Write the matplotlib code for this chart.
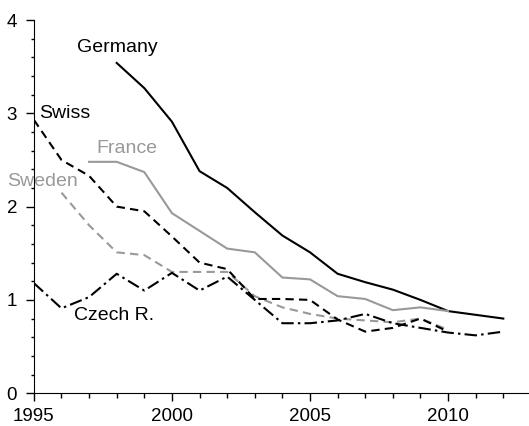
import matplotlib.pyplot as plt
from matplotlib.ticker import MultipleLocator

plt.rcParams['font.family'] = ['Liberation Sans', 'DejaVu Sans']

germany_yrs = [1998, 1999, 2000, 2001, 2002, 2003, 2004, 2005, 2006, 2007, 2008, 2009, 2010, 2011, 2012]
germany = [3.54, 3.27, 2.91, 2.38, 2.2, 1.94, 1.69, 1.51, 1.28, 1.19, 1.11, 1.0, 0.88, 0.84, 0.80]

france_yrs = [1997, 1998, 1999, 2000, 2001, 2002, 2003, 2004, 2005, 2006, 2007, 2008, 2009, 2010]
france = [2.48, 2.48, 2.37, 1.93, 1.74, 1.55, 1.51, 1.24, 1.22, 1.04, 1.01, 0.89, 0.92, 0.88]

swiss_yrs = [1995, 1996, 1997, 1998, 1999, 2000, 2001, 2002, 2003, 2004, 2005, 2006, 2007, 2008, 2009, 2010]
swiss = [2.93, 2.5, 2.33, 2.0, 1.95, 1.68, 1.40, 1.33, 1.01, 1.01, 1.0, 0.79, 0.66, 0.70, 0.80, 0.66]

sweden_yrs = [1996, 1997, 1998, 1999, 2000, 2001, 2002, 2003, 2004, 2005, 2006, 2007, 2008, 2009, 2010]
sweden = [2.15, 1.8, 1.51, 1.48, 1.30, 1.30, 1.30, 1.04, 0.92, 0.85, 0.80, 0.78, 0.76, 0.80, 0.68]

czech_yrs = [1995, 1996, 1997, 1998, 1999, 2000, 2001, 2002, 2003, 2004, 2005, 2006, 2007, 2008, 2009, 2010, 2011, 2012]
czech = [1.18, 0.91, 1.03, 1.28, 1.10, 1.29, 1.10, 1.25, 1.0, 0.75, 0.75, 0.78, 0.85, 0.75, 0.70, 0.65, 0.62, 0.66]

grey = '#999999'

fig = plt.figure(figsize=(5.29, 4.26), dpi=100)
ax = fig.add_axes([0.064, 0.077, 0.936, 0.876])

ax.plot(germany_yrs, germany, color='black', lw=1.5)
ax.plot(france_yrs, france, color=grey, lw=1.5)
ax.plot(sweden_yrs, sweden, color=grey, lw=1.5, dashes=(4, 2.5))
ax.plot(swiss_yrs, swiss, color='black', lw=1.5, dashes=(4, 2.5))
ax.plot(czech_yrs, czech, color='black', lw=1.5, dashes=(6, 2, 1.2, 2))

ax.text(1996.56, 3.71, 'Germany', fontsize=14, va='center')
ax.text(1995.2, 3.0, 'Swiss', fontsize=14, va='center')
ax.text(1997.28, 2.62, 'France', fontsize=14, color=grey, va='center')
ax.text(1994.05, 2.27, 'Sweden', fontsize=14, color=grey, va='center')
ax.text(1996.45, 0.83, 'Czech R.', fontsize=14, va='center')

ax.set_xlim(1995, 2012.93)
ax.set_ylim(0, 4)
ax.spines['top'].set_visible(False)
ax.spines['right'].set_visible(False)
ax.set_xticks([1995, 2000, 2005, 2010])
ax.xaxis.set_minor_locator(MultipleLocator(1))
ax.yaxis.set_major_locator(MultipleLocator(1))
ax.yaxis.set_minor_locator(MultipleLocator(0.2))
ax.tick_params(which='major', length=6, width=1, labelsize=13.5)
ax.tick_params(axis='x', which='major', pad=5)
ax.tick_params(axis='y', which='major', pad=6)
ax.tick_params(axis='x', which='minor', length=3.6, width=1)
ax.tick_params(axis='y', which='minor', length=2.5, width=1)

fig.savefig('out.png', dpi=100)
